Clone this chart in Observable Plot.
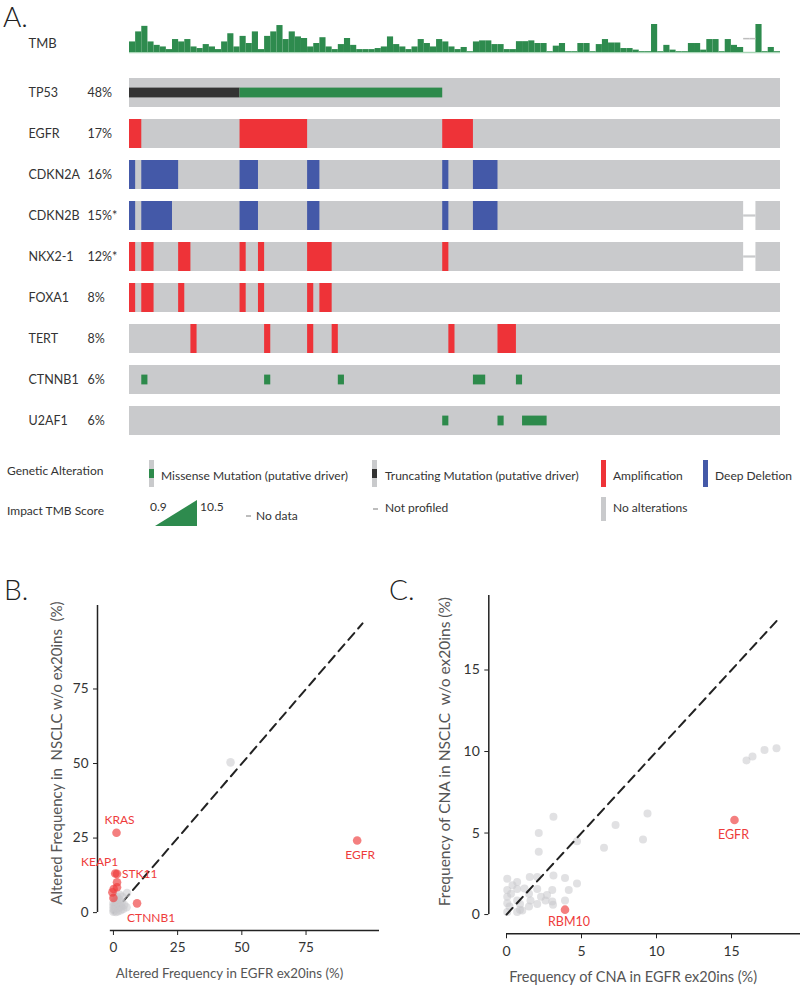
<!DOCTYPE html>
<html><head><meta charset="utf-8">
<script src="https://cdn.jsdelivr.net/npm/d3@7"></script>
<script src="https://cdn.jsdelivr.net/npm/@observablehq/plot@0.6"></script>
<style>
body{margin:0;background:#fff;font-family:Lato,"Open Sans",sans-serif;color:#333;}
#page{position:relative;width:800px;height:985px;overflow:hidden;background:#fff;}
.lbl{position:absolute;white-space:pre;line-height:1.2;}
.box{position:absolute;}
</style></head><body><div id="page"></div>
<script>
// ---------------- DATA ----------------
const genes = ["TP53","EGFR","CDKN2A","CDKN2B","NKX2-1","FOXA1","TERT","CTNNB1","U2AF1"];
const genePct = ["48%","17%","16%","15%*","12%*","8%","8%","6%","6%"];
const nSamples = 106;
const tmbScores = [4.0,7.8,9.9,4.0,2.7,2.1,1.1,4.9,4.0,4.9, 2.1,1.5,3.0,2.1,1.1,4.0,7.1,2.1,6.1,3.4,
 7.8,1.1,6.1,7.8,10.2,4.9,7.8,5.9,5.3,2.1, 3.4,5.6,2.1,1.1,3.0,5.3,2.7,1.1,1.1,1.1,
 1.5,2.1,5.9,3.0,2.1,1.1,2.1,4.9,3.4,2.1, 4.9,4.0,2.1,1.1,1.9,0.3,4.0,4.4,4.4,3.0,
 3.0,1.1,1.1,4.1,4.1,4.4,3.4,3.4,0.3,2.4, 3.4,0.3,0.3,3.4,3.4,0.3,3.0,4.9,3.6,3.6,
 1.5,1.5,0.9,0.3,0.3,10.6,0.3,2.7,0.9,0.3, 0.3,3.4,3.4,0.9,4.9,4.9,0.3,4.9,2.7,1.9,
 null,null,10.6,0.3,1.9,0.3];
// alteration runs: [gene, first sample, end sample (exclusive)]
const truncating = [["TP53",0,18]];
const missense = [["TP53",18,51],["CTNNB1",2,3],["CTNNB1",22,23],["CTNNB1",34,35],["CTNNB1",56,58],["CTNNB1",63,64],
 ["U2AF1",51,52],["U2AF1",60,61],["U2AF1",64,68]];
const amplification = [["EGFR",0,2],["EGFR",18,29],["EGFR",51,56],
 ["NKX2-1",0,1],["NKX2-1",2,4],["NKX2-1",8,10],["NKX2-1",18,19],["NKX2-1",21,22],["NKX2-1",29,33],["NKX2-1",51,52],
 ["FOXA1",0,1],["FOXA1",2,4],["FOXA1",8,9],["FOXA1",18,19],["FOXA1",21,22],["FOXA1",29,30],["FOXA1",31,33],
 ["TERT",10,11],["TERT",22,23],["TERT",29,30],["TERT",33,34],["TERT",52,53],["TERT",60,63]];
const deepDeletion = [["CDKN2A",0,1],["CDKN2A",2,8],["CDKN2A",18,21],["CDKN2A",29,31],["CDKN2A",51,52],["CDKN2A",56,60],
 ["CDKN2B",0,1],["CDKN2B",2,7],["CDKN2B",18,21],["CDKN2B",29,31],["CDKN2B",51,52],["CDKN2B",56,60]];
const notProfiled = [["CDKN2B",100,102],["NKX2-1",100,102]];

// Panel B: altered frequency (%) [x = EGFR ex20ins, y = NSCLC w/o ex20ins]
const bGrey = [[0,0.3],[0,1.2],[0,2.2],[0,3.2],[0.4,0.6],[0.5,1.8],[0.6,2.8],[0.8,4.0],[1.0,0.2],[1.1,1.3],
 [1.2,2.4],[1.3,3.6],[1.5,5.2],[1.8,0.5],[2.0,1.6],[2.1,2.9],[2.3,4.4],[2.5,6.0],[2.8,0.8],[3.0,2.0],
 [3.2,3.4],[3.4,5.3],[3.8,1.2],[4.2,2.6],[5.1,1.8],[5.3,6.6],[0.3,5.2],[45.6,50.4]];
const bRed = [["EGFR",94.9,24.2],["KRAS",1.2,26.8],["KEAP1",0.7,13.1],["STK11",1.4,13.0],["CTNNB1",9.2,3.1],
 ["",1.4,10.2],["",1.4,8.5],["",0.1,7.9],["",-0.4,6.8],["",0.0,4.9]];
const bIdentity = [0,97];
const bTicks = [0,25,50,75];

// Panel C: frequency of CNA (%)
const cGrey = [[16.0,9.45],[16.4,9.7],[17.2,10.1],[18.0,10.2],[9.4,6.2],[9.1,4.6],[7.27,5.5],[6.5,4.1],[4.7,4.5],
 [3.13,6.0],[2.15,5.0],[2.15,3.86],[3.13,2.4],[3.9,2.25],[4.7,1.9],[4.15,1.5],[3.9,0.86],[3.05,1.5],[3.05,0.8],
 [2.6,0.86],[2.05,0.65],[2.05,1.57],[2.05,2.3],[1.55,2.3],[1.5,1.27],[1.5,0.5],[1.05,0.25],[0.71,2.0],[0.71,1.57],
 [0.71,0.86],[0.71,0.15],[0.05,2.2],[0.05,1.5],[0.05,1.1],[0.05,0.7],[0.05,0.15],[0.2,0.5],[0.3,1.27],[0.9,0.65],
 [1.6,0.86],[2.3,1.1],[2.7,1.2],[3.1,0.6],[0.4,1.8],[1.2,1.6],[0.9,0.3]];
const cRed = [["EGFR",15.2,5.8],["RBM10",3.9,0.3]];
const cIdentity = [0,18];
const cTicks = [0,5,10,15];

// ---------------- STYLES ----------------
const C = {grey:"#c9cacc", red:"#ee3338", blue:"#4459a8", green:"#2d8a4b", dark:"#333333",
  tmb:"#2e8b4e", tmbBase:"#a9d6b6", dot:"#ee3a3a", dotLabel:"#ee3b3b", greyDot:"#c8c9cc"};
const font = "Lato, 'Open Sans', sans-serif";
const page = document.getElementById("page");
function label(text, x, yc, size, extra) {
  const s = document.createElement("div"); s.className = "lbl"; s.textContent = text;
  s.style.fontSize = size + "px"; s.style.left = x + "px"; s.style.top = (yc - 0.66 * size) + "px";
  Object.assign(s.style, extra || {}); page.appendChild(s);
}
function panelLabel(text, x, top) {
  const s = document.createElement("div"); s.className = "lbl"; s.textContent = text;
  Object.assign(s.style, {fontSize: "28px", lineHeight: "1", left: x + "px", top: top + "px", fontWeight: 300, color: "#222"});
  page.appendChild(s);
}
function box(x, y, w, h, color) {
  const b = document.createElement("div"); b.className = "box";
  Object.assign(b.style, {left:x+"px", top:y+"px", width:w+"px", height:h+"px", background:color});
  page.appendChild(b);
}
function placeSvg(svg, left, top) {
  svg.style.position = "absolute"; svg.style.left = left + "px"; svg.style.top = top + "px";
  page.appendChild(svg);
}
const runs = arr => arr.map(([gene, start, end]) => ({gene, start, end}));

// ---------------- PANEL A ----------------
panelLabel("A.", 3, 1.5);

const tmbData = tmbScores.map((v, i) => ({i, v}));
const tmbPlot = Plot.plot({
  width: 800, height: 60, marginLeft: 129, marginRight: 20, marginTop: 24, marginBottom: 8,
  x: {domain: [0, nSamples], axis: null}, y: {domain: [0, 10.6], axis: null},
  style: {fontFamily: font, fontSize: "13px", color: "#333", background: "none", overflow: "visible"},
  marks: [
    Plot.ruleY([0], {stroke: C.tmbBase, strokeWidth: 1.5}),
    Plot.rect(tmbData.filter(d => d.v != null), {x1: "i", x2: d => d.i + 1, y1: 0, y2: "v", fill: C.tmb}),
    Plot.ruleY(tmbData.filter(d => d.v == null), {x1: "i", x2: d => d.i + 1, y: 5.25, stroke: "#bdbdbd", strokeWidth: 1.5}),
    Plot.text(["TMB"], {frameAnchor: "left", dx: -101, dy: 5, textAnchor: "start", fill: "#333"})
  ]
});
placeSvg(tmbPlot, 0, 0);

const inner = {insetTop: 9.6, insetBottom: 9.6};
const onco = Plot.plot({
  width: 800, height: 395, marginLeft: 129, marginRight: 20, marginTop: 4.6, marginBottom: 6.4,
  x: {domain: [0, nSamples], axis: null},
  y: {domain: genes, axis: null, padding: 0.3},
  style: {fontFamily: font, fontSize: "12.5px", color: "#333", background: "none", overflow: "visible"},
  marks: [
    Plot.barX(genes, {y: d => d, x1: 0, x2: nSamples, fill: C.grey}),
    Plot.barX(runs(notProfiled), {y: "gene", x1: "start", x2: "end", fill: "white"}),
    Plot.barX(runs(notProfiled), {y: "gene", x1: "start", x2: "end", fill: C.grey, insetTop: 13.4, insetBottom: 13.4}),
    Plot.barX(runs(amplification), {y: "gene", x1: "start", x2: "end", fill: C.red}),
    Plot.barX(runs(deepDeletion), {y: "gene", x1: "start", x2: "end", fill: C.blue}),
    Plot.barX(runs(truncating), {y: "gene", x1: "start", x2: "end", fill: C.dark, ...inner}),
    Plot.barX(runs(missense), {y: "gene", x1: "start", x2: "end", fill: C.green, ...inner}),
    Plot.text(genes, {y: d => d, text: d => d, frameAnchor: "left", dx: -101, textAnchor: "start", fill: "#333", fontSize: 12.5}),
    Plot.text(genes, {y: d => d, text: (d, i) => genePct[i], frameAnchor: "left", dx: -42, textAnchor: "start", fill: "#333", fontSize: 12.5})
  ]
});
placeSvg(onco, 0, 60);

// Legend
const lf = 12;
label("Genetic Alteration", 7, 472, lf);
box(149, 460, 5, 27, C.grey); box(149, 469, 5, 9, C.green);
label("Missense Mutation (putative driver)", 161, 476.5, lf);
box(372, 460, 5, 27, C.grey); box(372, 469, 5, 9, C.dark);
label("Truncating Mutation (putative driver)", 385, 476.5, lf);
box(601, 460, 5, 27, C.red);
label("Amplification", 613, 476.5, lf);
box(703, 460, 5, 27, C.blue);
label("Deep Deletion", 715, 476.5, lf);
label("Impact TMB Score", 7, 511.5, lf);
label("0.9", 150, 508, lf);
{
  const ns = "http://www.w3.org/2000/svg";
  const s = document.createElementNS(ns, "svg");
  s.setAttribute("width", 45); s.setAttribute("height", 30);
  const p = document.createElementNS(ns, "polygon");
  p.setAttribute("points", "0,26 42,26 42,0"); p.setAttribute("fill", C.tmb);
  s.appendChild(p); placeSvg(s, 155, 500);
}
label("10.5", 200, 508, lf);
box(246, 515, 5, 1.5, "#bdbdbd");
label("No data", 256, 516.5, lf);
box(373, 508, 5, 1.5, "#bdbdbd");
label("Not profiled", 385, 509, lf);
box(601, 497, 5, 24, C.grey);
label("No alterations", 613, 509, lf);

// ---------------- PANEL B ----------------
panelLabel("B.", 4, 575);
panelLabel("C.", 389, 575);

function redLabels(data, styles, size) {
  return data.filter(d => d[0] && styles[d[0]]).map(d => Plot.text([d], {
    x: r => r[1], y: r => r[2], text: r => r[0], fill: C.dotLabel, fontSize: size, ...styles[d[0]]
  }));
}
const labelStyleB = {
  EGFR: {dx: 3, dy: 15, textAnchor: "middle"},
  KRAS: {dx: 3, dy: -13, textAnchor: "middle"},
  KEAP1: {dx: 3, dy: -11, textAnchor: "end"},
  STK11: {dx: 5, dy: 0, textAnchor: "start"},
  CTNNB1: {dx: -10, dy: 15, textAnchor: "start"}
};
const bPlot = Plot.plot({
  width: 400, height: 425, marginLeft: 97, marginRight: 21, marginTop: 45, marginBottom: 55,
  x: {domain: [-6.2, 103.6]}, y: {domain: [-6, 103]},
  style: {fontFamily: font, fontSize: "13.5px", color: "#333", background: "none", overflow: "visible"},
  marks: [
    Plot.ruleY([-6], {x1: -1.2, x2: 103.6, stroke: "#222", strokeWidth: 1.5}),
    Plot.ruleX([-6.2], {y1: 0, y2: 103, stroke: "#222", strokeWidth: 1.5}),
    Plot.axisX(bTicks, {tickSize: 5, tickPadding: 7, stroke: "#222", fill: "#333", label: null}),
    Plot.axisY(bTicks, {tickSize: 4, tickPadding: 5, stroke: "#222", fill: "#333", label: null}),
    Plot.line(bIdentity, {x: d => d, y: d => d, stroke: "#222", strokeWidth: 2, strokeDasharray: "9,6"}),
    Plot.dot(bGrey, {x: d => d[0], y: d => d[1], r: 4.3, fill: C.greyDot, fillOpacity: 0.55, stroke: "none"}),
    Plot.dot(bRed, {x: d => d[1], y: d => d[2], r: 4.3, fill: C.dot, fillOpacity: 0.65, stroke: "none"}),
    ...redLabels(bRed, labelStyleB, 12),
    Plot.text(["Altered Frequency in EGFR ex20ins (%)"], {frameAnchor: "bottom", dx: -9, dy: 43, textAnchor: "middle", lineAnchor: "middle", fontSize: 13.3, fill: "#555"}),
    Plot.text(["Altered Frequency in\u00a0 NSCLC w/o ex20ins\u00a0 (%)"], {frameAnchor: "left", dx: -40, dy: -15, rotate: -90, textAnchor: "middle", lineAnchor: "middle", fontSize: 15, fill: "#555"})
  ]
});
placeSvg(bPlot, 0, 560);

// ---------------- PANEL C ----------------
const labelStyleC = {
  EGFR: {dx: -1, dy: 15, textAnchor: "middle"},
  RBM10: {dx: 4, dy: 12.5, textAnchor: "middle"}
};
const cPlot = Plot.plot({
  width: 400, height: 425, marginLeft: 88.3, marginRight: 0, marginTop: 35, marginBottom: 51.7,
  x: {domain: [-1.18, 19.6]}, y: {domain: [-1.18, 19.57]},
  style: {fontFamily: font, fontSize: "14px", color: "#333", background: "none", overflow: "visible"},
  marks: [
    Plot.ruleY([-1.18], {x1: 0, x2: 19.6, stroke: "#222", strokeWidth: 1.5}),
    Plot.ruleX([-1.18], {y1: 0, y2: 19.57, stroke: "#222", strokeWidth: 1.5}),
    Plot.axisX(cTicks, {tickSize: 5, tickPadding: 7, stroke: "#222", fill: "#333", label: null}),
    Plot.axisY(cTicks, {tickSize: 4, tickPadding: 5, stroke: "#222", fill: "#333", label: null}),
    Plot.dot(cGrey, {x: d => d[0], y: d => d[1], r: 4, fill: C.greyDot, fillOpacity: 0.55, stroke: "none"}),
    Plot.line(cIdentity, {x: d => d, y: d => d, stroke: "#222", strokeWidth: 2, strokeDasharray: "9,6"}),
    Plot.dot(cRed, {x: d => d[1], y: d => d[2], r: 4.3, fill: C.dot, fillOpacity: 0.65, stroke: "none"}),
    ...redLabels(cRed, labelStyleC, 12.5),
    Plot.text(["Frequency of CNA in EGFR ex20ins (%)"], {frameAnchor: "bottom", dx: -11.5, dy: 43.4, textAnchor: "middle", lineAnchor: "middle", fontSize: 14.5, fill: "#555"}),
    Plot.text(["Frequency of CNA in NSCLC\u00a0 w/o ex20ins (%)"], {frameAnchor: "left", dx: -43.3, dy: -13, rotate: -90, textAnchor: "middle", lineAnchor: "middle", fontSize: 15.5, fill: "#555"})
  ]
});
placeSvg(cPlot, 400, 560);
</script></body></html>
